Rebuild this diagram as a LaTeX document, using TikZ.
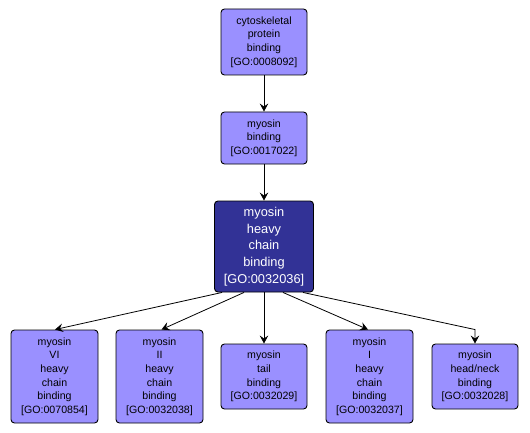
\documentclass[tikz,border=0pt]{standalone}
\usepackage{fontspec}
\setmainfont{Liberation Sans}
\usetikzlibrary{calc,arrows.meta}
\definecolor{golight}{RGB}{154,144,255}
\definecolor{godark}{RGB}{50,50,150}
\begin{document}
\begin{tikzpicture}[x=1pt,y=-1pt,
  gobox/.style={draw=black, line width=0.9pt, rounded corners=3.5pt, fill=golight,
    inner sep=0pt, align=center, text width=85pt,
    font=\fontsize{10.6}{13.6}\selectfont},
  mainbox/.style={draw=black, line width=0.9pt, rounded corners=3.5pt, fill=godark,
    inner sep=0pt, align=center, text=white, text width=97pt,
    font=\fontsize{12.8}{16.6}\selectfont},
  edge/.style={draw=black, line width=0.8pt, -{Stealth[length=8pt,width=8.5pt,inset=3pt]}}
]
\useasboundingbox (0,0) rectangle (530,433);
% top
\node[gobox, minimum width=86pt, minimum height=66pt] (cyto) at (264,42)
  {cytoskeletal\\protein\\binding\\{}[GO:0008092]};
\node[gobox, minimum width=86pt, minimum height=52pt] (mb) at (264,138)
  {myosin\\binding\\{}[GO:0017022]};
\node[mainbox, minimum width=99pt, minimum height=91pt] (main) at (264,246.5)
  {myosin\\heavy\\chain\\binding\\{}[GO:0032036]};
% bottom
\node[gobox, minimum width=87pt, minimum height=93pt] (vi) at (54.5,376.5)
  {myosin\\VI\\heavy\\chain\\binding\\{}[GO:0070854]};
\node[gobox, minimum width=87pt, minimum height=93pt] (ii) at (159.5,376.5)
  {myosin\\II\\heavy\\chain\\binding\\{}[GO:0032038]};
\node[gobox, minimum width=86pt, minimum height=65pt] (tail) at (264,376.5)
  {myosin\\tail\\binding\\{}[GO:0032029]};
\node[gobox, minimum width=87pt, minimum height=93pt] (i) at (369.5,376.5)
  {myosin\\I\\heavy\\chain\\binding\\{}[GO:0032037]};
\node[gobox, minimum width=86pt, minimum height=65pt] (hn) at (475,376.5)
  {myosin\\head/neck\\binding\\{}[GO:0032028]};
% edges
\draw[edge] (cyto.south) -- (mb.north);
\draw[edge] (mb.south) -- (main.north);
\draw[edge] ($(main.south west)!0.08!(main.south east)$) -- ($(vi.north)+(0.5,0)$);
\draw[edge] ($(main.south west)!0.30!(main.south east)$) -- ($(ii.north)+(2,0)$);
\draw[edge] (main.south) -- (tail.north);
\draw[edge] ($(main.south west)!0.69!(main.south east)$) -- ($(i.north)+(-1.5,0)$);
\coordinate (bend) at ($(hn.north)+(0,-14)$);
\draw[edge] ($(main.south west)!0.89!(main.south east)$) -- (bend) -- (hn.north);
\end{tikzpicture}
\end{document}
